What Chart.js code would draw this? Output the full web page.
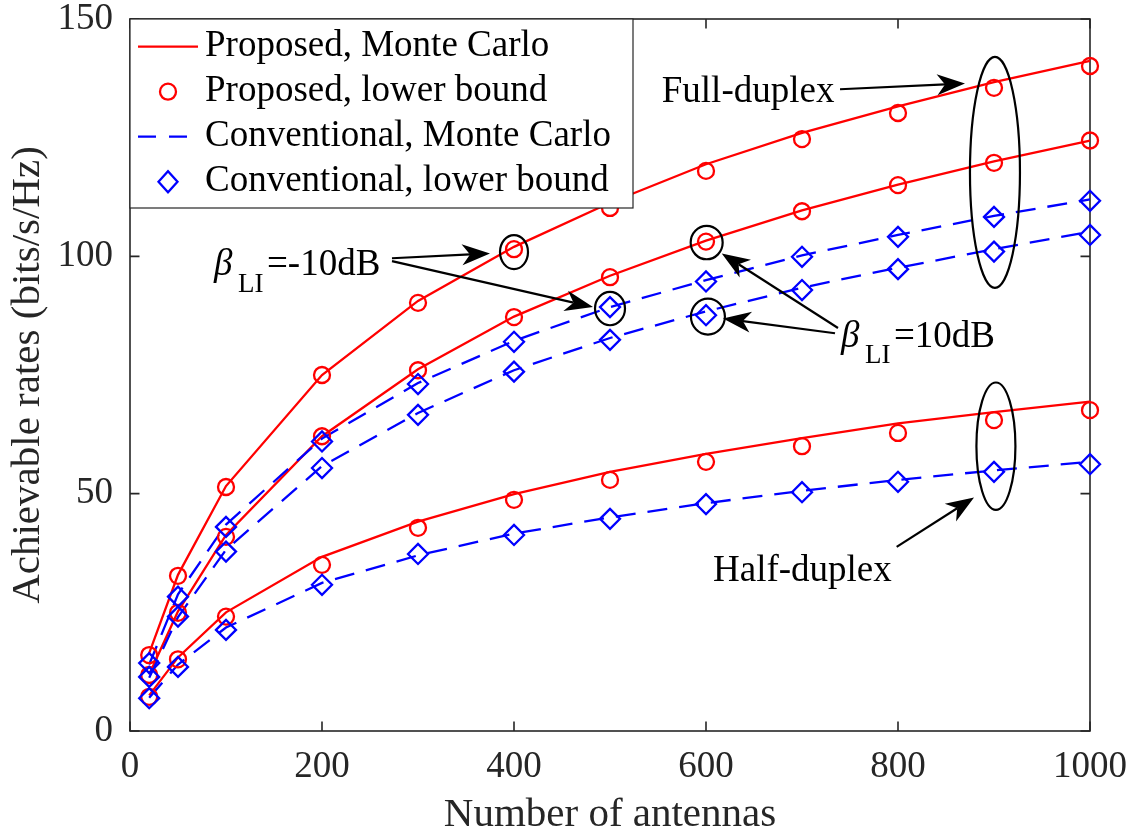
<!DOCTYPE html>
<html>
<head>
<meta charset="utf-8">
<script src="https://cdn.jsdelivr.net/npm/chart.js@4.4.1/dist/chart.umd.min.js"></script>
<style>
  html, body { margin: 0; padding: 0; background: #fff; }
  #wrap { width: 1137px; height: 836px; }
</style>
</head>
<body>
<div id="wrap"><canvas id="rates" width="1137" height="836"></canvas></div>
<script>
// number of BS antennas
var antennas = [20, 50, 100, 200, 300, 400, 500, 600, 700, 800, 900, 1000];

// proposed scheme, Monte Carlo
var propFdLowLiMc  = [16.4, 32.9, 51.6, 75.0, 90.6, 102.0, 111.3, 119.4, 126.0, 131.6, 136.7, 141.2];
var propFdHighLiMc = [11.9, 25.2, 41.3, 62.1, 76.2, 87.3, 95.9, 103.3, 109.7, 115.1, 120.0, 124.4];
var propHdMc       = [7.5, 15.5, 25.0, 36.7, 44.1, 49.9, 54.6, 58.4, 61.7, 64.8, 67.2, 69.4];

// proposed scheme, lower bound
var propFdLowLiLb  = [16.0, 32.7, 51.4, 75.0, 90.2, 101.5, 110.2, 118.0, 124.7, 130.2, 135.5, 140.1];
var propFdHighLiLb = [11.8, 24.9, 40.9, 62.1, 76.0, 87.2, 95.6, 103.1, 109.5, 115.0, 119.7, 124.4];
var propHdLb       = [7.2, 15.1, 24.1, 35.0, 42.8, 48.7, 52.9, 56.7, 60.0, 62.8, 65.5, 67.6];

// conventional scheme, Monte Carlo
var convFdLowLiMc  = [14.0, 28.8, 43.5, 61.6, 73.3, 82.2, 89.3, 95.0, 100.2, 104.5, 108.5, 112.0];
var convFdHighLiMc = [11.2, 24.0, 38.2, 55.8, 67.0, 76.0, 82.8, 88.4, 93.4, 97.6, 101.5, 105.2];
var convHdMc       = [7.0, 14.0, 21.8, 31.2, 37.0, 41.6, 45.0, 48.0, 50.6, 52.9, 54.9, 56.7];

// conventional scheme, lower bound
var convFdLowLiLb  = [14.3, 28.3, 43.0, 61.0, 73.1, 82.0, 89.3, 94.7, 99.9, 104.1, 108.3, 111.7];
var convFdHighLiLb = [11.4, 24.1, 37.8, 55.4, 66.6, 75.7, 82.4, 87.6, 92.9, 97.3, 101.0, 104.5];
var convHdLb       = [6.9, 13.5, 21.3, 30.8, 37.3, 41.3, 44.7, 47.8, 50.3, 52.5, 54.6, 56.2];

var legendLabels = ["Proposed, Monte Carlo", "Proposed, lower bound", "Conventional, Monte Carlo", "Conventional, lower bound"];

var RED = "#ff0000";
var BLUE = "#0000ff";
var AXIS = "#262626";
var SERIF = "'Liberation Serif', 'Times New Roman', Times, serif";
var DASH = [20, 12];
var LW = 2.3;

// ellipses round the highlighted points (centre in data units, radii in px)
var rings = [
    { x: 901, y: 117.7, rx: 25, ry: 115.5 },
    { x: 902, y: 60.0, rx: 19.5, ry: 63.7 },
    { x: 400, y: 100.9, rx: 14, ry: 17 },
    { x: 500, y: 89.0, rx: 15, ry: 16.7 },
    { x: 600.7, y: 102.9, rx: 16, ry: 16.7 },
    { x: 602, y: 87.3, rx: 17, ry: 18 }
];

// arrows, tail -> head, data units
var arrows = [
    { from: [739.6, 135.2], to: [869.8, 136.4] },
    { from: [798.6, 38.8], to: [879.2, 49.2] },
    { from: [272.9, 99.6], to: [375.0, 100.6] },
    { from: [272.9, 99.0], to: [482.3, 89.3] },
    { from: [737.5, 84.9], to: [616.4, 100.6] },
    { from: [734.4, 83.8], to: [617.7, 86.9] }
];

var notes = [
    { text: "Full-duplex", x: 553.9, y: 132.6 },
    { text: "Half-duplex", x: 607.3, y: 31.5 }
];

var betaNotes = [
    { value: "=-10dB", x: 87.5, y: 96.1 },
    { value: "=10dB", x: 740.6, y: 81.0 }
];

function pts(ys) {
    return antennas.map((x, i) => ({ x: x, y: ys[i] }));
}

function curve(ys, color, dashed) {
    return {
        data: pts(ys),
        showLine: true,
        borderColor: color,
        borderWidth: LW,
        borderDash: dashed ? DASH : [],
        pointRadius: 0,
        tension: 0,
        clip: false
    };
}

function marks(ys, color, style, r) {
    return {
        data: pts(ys),
        showLine: false,
        pointStyle: style,
        pointRadius: r,
        pointBorderWidth: LW,
        pointBorderColor: color,
        pointBackgroundColor: "rgba(0,0,0,0)",
        clip: false
    };
}

// fixed axis size, and no extra room for overhanging tick labels
function fixSize(prop, size) {
    return (s) => {
        s[prop] = size;
        s.paddingTop = 0;
        s.paddingBottom = 0;
        s.paddingLeft = 0;
        s.paddingRight = 0;
    };
}

// axes box with inward ticks on all four sides
var boxAxes = {
    id: "boxAxes",
    beforeDatasetsDraw(chart) {
        let { ctx, chartArea: a, scales: { x, y } } = chart;
        let tl = 9.5;
        ctx.save();
        ctx.strokeStyle = AXIS;
        ctx.lineWidth = 1.6;
        ctx.strokeRect(a.left, a.top, a.right - a.left, a.bottom - a.top);
        ctx.beginPath();
        x.ticks.forEach((t) => {
            let px = x.getPixelForValue(t.value);
            ctx.moveTo(px, a.bottom); ctx.lineTo(px, a.bottom - tl);
            ctx.moveTo(px, a.top); ctx.lineTo(px, a.top + tl);
        });
        y.ticks.forEach((t) => {
            let py = y.getPixelForValue(t.value);
            ctx.moveTo(a.left, py); ctx.lineTo(a.left + tl, py);
            ctx.moveTo(a.right, py); ctx.lineTo(a.right - tl, py);
        });
        ctx.stroke();
        ctx.restore();
    }
};

function arrowHead(ctx, x0, y0, x1, y1) {
    let ang = Math.atan2(y1 - y0, x1 - x0);
    let len = 28, half = 10.5, notch = 8;
    ctx.save();
    ctx.translate(x1, y1);
    ctx.rotate(ang);
    ctx.beginPath();
    ctx.moveTo(0, 0);
    ctx.lineTo(-len, -half);
    ctx.lineTo(-len + notch, 0);
    ctx.lineTo(-len, half);
    ctx.closePath();
    ctx.fill();
    ctx.restore();
}

// ellipses, arrows and text labels
var callouts = {
    id: "callouts",
    afterDatasetsDraw(chart) {
        let { ctx, scales: { x, y } } = chart;
        ctx.save();
        ctx.strokeStyle = "#000";
        ctx.fillStyle = "#000";
        ctx.lineWidth = 2.2;

        rings.forEach((e) => {
            ctx.beginPath();
            ctx.ellipse(x.getPixelForValue(e.x), y.getPixelForValue(e.y), e.rx, e.ry, 0, 0, Math.PI * 2);
            ctx.stroke();
        });

        arrows.forEach((a) => {
            let x0 = x.getPixelForValue(a.from[0]), y0 = y.getPixelForValue(a.from[1]);
            let x1 = x.getPixelForValue(a.to[0]), y1 = y.getPixelForValue(a.to[1]);
            let ang = Math.atan2(y1 - y0, x1 - x0);
            ctx.beginPath();
            ctx.moveTo(x0, y0);
            ctx.lineTo(x1 - Math.cos(ang) * 20, y1 - Math.sin(ang) * 20);
            ctx.stroke();
            arrowHead(ctx, x0, y0, x1, y1);
        });

        ctx.textAlign = "left";
        ctx.textBaseline = "alphabetic";
        ctx.font = "37px " + SERIF;
        notes.forEach((n) => {
            ctx.fillText(n.text, x.getPixelForValue(n.x), y.getPixelForValue(n.y));
        });

        betaNotes.forEach((b) => {
            let bx = x.getPixelForValue(b.x), by = y.getPixelForValue(b.y);
            ctx.font = "italic 37px " + SERIF;
            ctx.fillText("\u03B2", bx, by);
            ctx.font = "27px " + SERIF;
            ctx.fillText("LI", bx + 24, by + 16.7);
            ctx.font = "37px " + SERIF;
            ctx.fillText(b.value, bx + 53, by);
        });
        ctx.restore();
    }
};

// legend in the upper-left corner of the axes
var cornerLegend = {
    id: "cornerLegend",
    afterDraw(chart) {
        let { ctx, chartArea: a } = chart;
        let left = a.left, top = a.top, w = 503, h = 189;
        let kinds = [
            { color: RED, line: [] },
            { color: RED, mark: "circle" },
            { color: BLUE, line: [18, 13] },
            { color: BLUE, mark: "diamond" }
        ];
        ctx.save();
        ctx.fillStyle = "#fff";
        ctx.fillRect(left, top, w, h);
        ctx.strokeStyle = AXIS;
        ctx.lineWidth = 1.2;
        ctx.strokeRect(left, top, w, h);

        ctx.font = "37px " + SERIF;
        ctx.textBaseline = "middle";
        ctx.textAlign = "left";
        legendLabels.forEach((label, i) => {
            let ry = top + 27.7 + i * 45;
            let k = kinds[i];
            ctx.strokeStyle = k.color;
            ctx.lineWidth = LW;
            if (k.line) {
                ctx.setLineDash(k.line);
                ctx.beginPath();
                ctx.moveTo(left + 8, ry);
                ctx.lineTo(left + 68, ry);
                ctx.stroke();
                ctx.setLineDash([]);
            } else if (k.mark === "circle") {
                ctx.beginPath();
                ctx.arc(left + 38, ry, 8, 0, Math.PI * 2);
                ctx.stroke();
            } else {
                ctx.beginPath();
                ctx.moveTo(left + 38 - 9.5, ry);
                ctx.lineTo(left + 38, ry - 10.5);
                ctx.lineTo(left + 38 + 9.5, ry);
                ctx.lineTo(left + 38, ry + 10.5);
                ctx.closePath();
                ctx.stroke();
            }
            ctx.fillStyle = "#000";
            ctx.fillText(label, left + 75, ry);
        });
        ctx.restore();
    }
};

var rateChart = new Chart(document.getElementById("rates"), {
    type: "scatter",
    data: {
        datasets: [
            marks(convFdLowLiLb, BLUE, "rectRot", 10),
            marks(convFdHighLiLb, BLUE, "rectRot", 10),
            marks(convHdLb, BLUE, "rectRot", 10),
            marks(propFdLowLiLb, RED, "circle", 8),
            marks(propFdHighLiLb, RED, "circle", 8),
            marks(propHdLb, RED, "circle", 8),
            curve(convFdLowLiMc, BLUE, true),
            curve(convFdHighLiMc, BLUE, true),
            curve(convHdMc, BLUE, true),
            curve(propFdLowLiMc, RED, false),
            curve(propFdHighLiMc, RED, false),
            curve(propHdMc, RED, false)
        ]
    },
    options: {
        responsive: false,
        animation: false,
        devicePixelRatio: 1,
        layout: { padding: { left: 0, right: 47, top: 19, bottom: 0 } },
        plugins: {
            legend: { display: false },
            tooltip: { enabled: false }
        },
        scales: {
            x: {
                type: "linear",
                min: 0,
                max: 1000,
                afterFit: fixSize("height", 105),
                grid: { display: false, drawTicks: false },
                border: { display: false },
                ticks: {
                    stepSize: 200,
                    padding: 18,
                    maxRotation: 0,
                    color: AXIS,
                    font: { family: SERIF, size: 37, lineHeight: 1 },
                    callback: (v) => String(v)
                },
                title: {
                    display: true,
                    text: "Number of antennas",
                    color: AXIS,
                    padding: { top: 0, bottom: 0 },
                    font: { family: SERIF, size: 41, lineHeight: 1 }
                }
            },
            y: {
                min: 0,
                max: 150,
                afterFit: fixSize("width", 130),
                grid: { display: false, drawTicks: false },
                border: { display: false },
                ticks: {
                    stepSize: 50,
                    padding: 17,
                    color: AXIS,
                    font: { family: SERIF, size: 37, lineHeight: 1 },
                    callback: (v) => String(v)
                },
                title: {
                    display: true,
                    text: "Achievable rates (bits/s/Hz)",
                    color: AXIS,
                    padding: { top: 8, bottom: 0 },
                    font: { family: SERIF, size: 41, lineHeight: 1 }
                }
            }
        }
    },
    plugins: [boxAxes, callouts, cornerLegend]
});
</script>
</body>
</html>
